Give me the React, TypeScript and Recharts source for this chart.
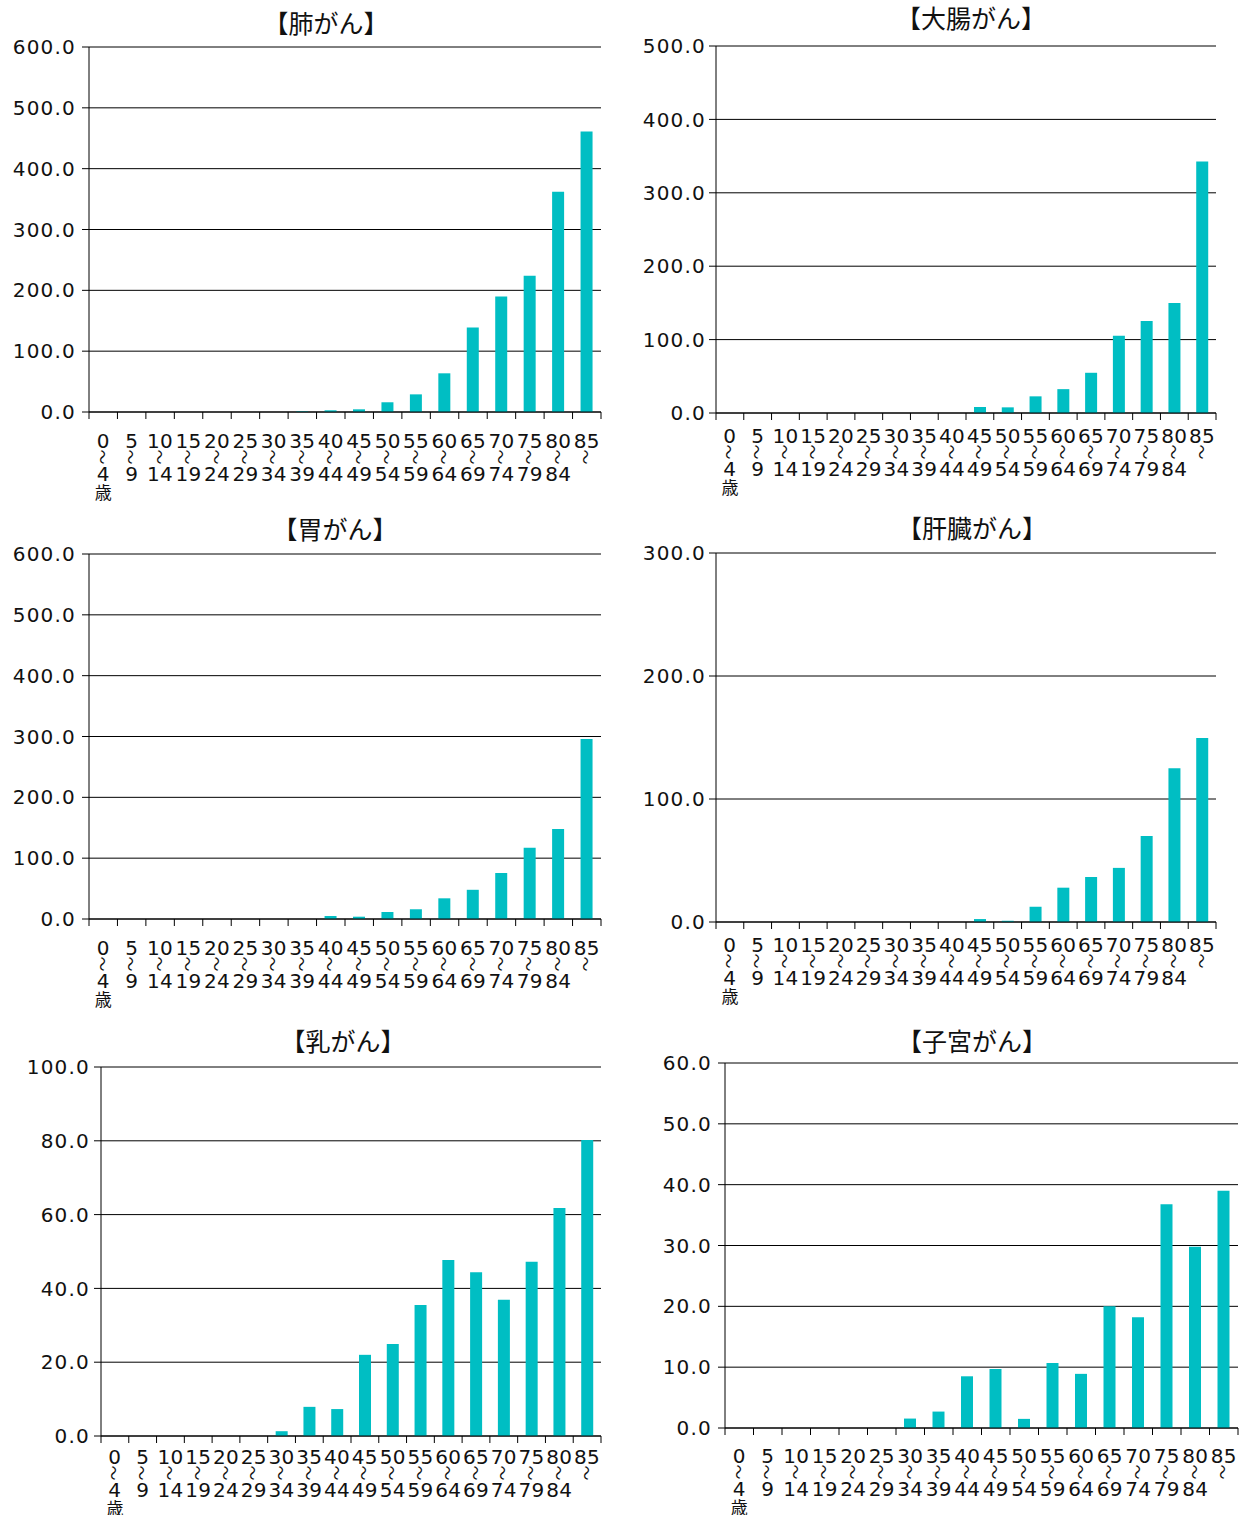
import React from 'react';
import { BarChart, Bar, XAxis, YAxis, CartesianGrid } from 'recharts';

// ---- data ----
const ageStarts = ['0', '5', '10', '15', '20', '25', '30', '35', '40', '45', '50', '55', '60', '65', '70', '75', '80', '85'];
const ageEnds = ['4', '9', '14', '19', '24', '29', '34', '39', '44', '49', '54', '59', '64', '69', '74', '79', '84', ''];

const lungValues = [0, 0, 0, 0, 0, 0, 0, 1.1, 2.8, 4.4, 16, 29, 63.6, 138.7, 190, 224, 362, 461];
const colorectalValues = [0, 0, 0, 0, 0, 0, 0, 0, 0, 8.2, 7.7, 22.7, 32.5, 54.8, 105.4, 125.3, 149.8, 342.5];
const stomachValues = [0, 0, 0, 0, 0, 0, 0, 0, 4.9, 3.8, 11.5, 16, 34, 48, 75.6, 117, 148, 296];
const liverValues = [0, 0, 0, 0, 0, 0, 0, 0, 0, 2.4, 1, 12.4, 27.9, 36.6, 44, 70, 125, 149.6];
const breastValues = [0, 0, 0, 0, 0, 0, 1.3, 7.9, 7.3, 22, 24.9, 35.5, 47.7, 44.4, 36.9, 47.2, 61.8, 80.2];
const uterineValues = [0, 0, 0, 0, 0, 0, 1.55, 2.7, 8.5, 9.7, 1.5, 10.7, 8.9, 20, 18.2, 36.8, 29.8, 39];

const lungTicks = [0, 100, 200, 300, 400, 500, 600];
const colorectalTicks = [0, 100, 200, 300, 400, 500];
const stomachTicks = [0, 100, 200, 300, 400, 500, 600];
const liverTicks = [0, 100, 200, 300];
const breastTicks = [0, 20, 40, 60, 80, 100];
const uterineTicks = [0, 10, 20, 30, 40, 50, 60];

const titles = ['【肺がん】', '【大腸がん】', '【胃がん】', '【肝臓がん】', '【乳がん】', '【子宮がん】'];

const BAR_COLOR = '#00BEC3';
const FONT = '"DejaVu Sans", "Noto Sans CJK JP", sans-serif';
const CJK = '"Noto Sans CJK JP", sans-serif';

type Panel = {
  title: string;
  values: number[];
  ticks: number[];
  left: number;
  top: number;
  x0: number;
  x1: number;
  yTop: number;
  yBot: number;
  height: number;
  tickMargin: number;
  labelDy: number;
  titleX: number;
  titleY: number;
};

const panels: Panel[] = [
  { title: titles[0], values: lungValues, ticks: lungTicks, left: 0, top: 0, x0: 89, x1: 601, yTop: 47, yBot: 412, height: 505, tickMargin: 6, labelDy: 29, titleX: 326, titleY: 22 },
  { title: titles[1], values: colorectalValues, ticks: colorectalTicks, left: 620, top: 0, x0: 716, x1: 1216, yTop: 46, yBot: 413, height: 505, tickMargin: 3, labelDy: 23, titleX: 971, titleY: 17 },
  { title: titles[2], values: stomachValues, ticks: stomachTicks, left: 0, top: 505, x0: 89, x1: 601, yTop: 554, yBot: 919, height: 510, tickMargin: 6, labelDy: 29, titleX: 335, titleY: 528 },
  { title: titles[3], values: liverValues, ticks: liverTicks, left: 620, top: 505, x0: 716, x1: 1216, yTop: 553, yBot: 922, height: 510, tickMargin: 3, labelDy: 23, titleX: 972, titleY: 527 },
  { title: titles[4], values: breastValues, ticks: breastTicks, left: 0, top: 1015, x0: 101, x1: 601, yTop: 1067, yBot: 1436, height: 510, tickMargin: 4, labelDy: 21, titleX: 343, titleY: 1040 },
  { title: titles[5], values: uterineValues, ticks: uterineTicks, left: 620, top: 1015, x0: 725, x1: 1238, yTop: 1063, yBot: 1428, height: 510, tickMargin: 6, labelDy: 28, titleX: 972, titleY: 1040 },
];

const AgeTick = (props: any) => {
  const { x, y, payload, index, bw, labelDy } = props;
  const i = ageStarts.indexOf(String(payload.value));
  const end = ageEnds[i] ?? '';
  const cy = y + labelDy;
  const waveY = cy + 16;
  return (
    <g>
      <line x1={x - bw / 2} y1={y} x2={x - bw / 2} y2={y + 7} stroke="#000" strokeWidth={1} />
      {index === ageStarts.length - 1 && (
        <line x1={x + bw / 2} y1={y} x2={x + bw / 2} y2={y + 7} stroke="#000" strokeWidth={1} />
      )}
      <text x={x} y={cy} textAnchor="middle" dominantBaseline="central" fontSize={20} fill="#111" fontFamily={FONT} letterSpacing={0.3}>
        {payload.value}
      </text>
      <text
        x={x}
        y={waveY}
        textAnchor="middle"
        dominantBaseline="central"
        fontSize={15}
        fill="#111"
        fontFamily={CJK}
        transform={`rotate(90 ${x} ${waveY})`}
      >
        〜
      </text>
      {end !== '' && (
        <text x={x} y={cy + 33} textAnchor="middle" dominantBaseline="central" fontSize={20} fill="#111" fontFamily={FONT} letterSpacing={0.3}>
          {end}
        </text>
      )}
      {i === 0 && (
        <text x={x} y={cy + 50} textAnchor="middle" dominantBaseline="central" fontSize={17} fill="#111" fontFamily={CJK}>
          歳
        </text>
      )}
    </g>
  );
};

const PanelChart = ({ p }: { p: Panel }) => {
  const data = ageStarts.map((a, i) => ({ age: a, value: p.values[i] }));
  const rightPad = 8;
  const width = p.x1 - p.left + rightPad;
  const yAxisWidth = p.x0 - p.left;
  const marginTop = p.yTop - p.top;
  const xAxisHeight = p.height - (p.yBot - p.top);
  const bw = (p.x1 - p.x0) / ageStarts.length;
  const max = p.ticks[p.ticks.length - 1];
  return (
    <div style={{ position: 'absolute', left: p.left, top: p.top, width, height: p.height }}>
      <BarChart
        width={width}
        height={p.height}
        data={data}
        margin={{ top: marginTop, right: rightPad, left: 0, bottom: 0 }}
      >
        <CartesianGrid horizontal vertical={false} stroke="#000" strokeWidth={1} />
        <XAxis
          dataKey="age"
          interval={0}
          height={xAxisHeight}
          axisLine={{ stroke: '#000' }}
          tickLine={false}
          tickSize={0}
          tickMargin={0}
          tick={(tp: any) => <AgeTick {...tp} bw={bw} labelDy={p.labelDy} />}
        />
        <YAxis
          width={yAxisWidth}
          domain={[0, max]}
          ticks={p.ticks}
          interval={0}
          allowDataOverflow
          tickFormatter={(v: number) => v.toFixed(1)}
          axisLine={{ stroke: '#000' }}
          tickLine={{ stroke: '#000' }}
          tickSize={7}
          tickMargin={p.tickMargin}
          tick={{ fill: '#111', fontSize: 20, fontFamily: FONT, letterSpacing: 1.2 }}
        />
        <Bar dataKey="value" fill={BAR_COLOR} barSize={12} isAnimationActive={false} />
      </BarChart>
    </div>
  );
};

export default function App() {
  return (
    <div style={{ position: 'absolute', left: 0, top: 0, width: 1247, height: 1515, background: '#fff', overflow: 'hidden', fontFamily: FONT }}>
      {panels.map((p) => (
        <PanelChart key={p.title} p={p} />
      ))}
      {panels.map((p) => (
        <div
          key={'t' + p.title}
          style={{
            position: 'absolute',
            left: p.titleX,
            top: p.titleY,
            transform: 'translate(-50%, -50%)',
            fontSize: 25,
            lineHeight: 1,
            whiteSpace: 'nowrap',
            color: '#111',
            fontFamily: CJK,
          }}
        >
          {p.title}
        </div>
      ))}
    </div>
  );
}
